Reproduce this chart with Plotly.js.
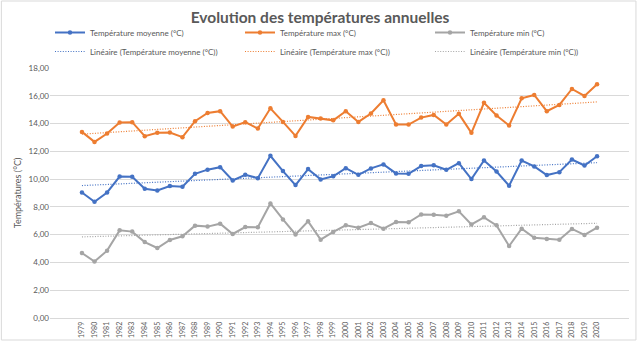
<!DOCTYPE html>
<html><head><meta charset="utf-8">
<script src="https://cdn.plot.ly/plotly-3.0.1.min.js"></script>
<style>html,body{margin:0;padding:0;background:#fff}#chart{width:640px;height:346px}</style>
</head><body><div id="chart"></div>
<script>
const years = ["1979","1980","1981","1982","1983","1984","1985","1986","1987","1988","1989","1990","1991","1992","1993","1994","1995","1996","1997","1998","1999","2000","2001","2002","2003","2004","2005","2006","2007","2008","2009","2010","2011","2012","2013","2014","2015","2016","2017","2018","2019","2020"];
const tMoy = [9.04,8.37,9.04,10.18,10.17,9.30,9.18,9.50,9.45,10.38,10.68,10.86,9.90,10.31,10.07,11.68,10.58,9.57,10.72,9.98,10.20,10.79,10.31,10.77,11.06,10.41,10.38,10.94,11.00,10.67,11.15,10.00,11.34,10.55,9.52,11.34,10.91,10.29,10.50,11.41,10.98,11.65];
const tMax = [13.40,12.68,13.28,14.07,14.10,13.09,13.33,13.35,13.02,14.17,14.76,14.89,13.78,14.10,13.64,15.10,14.12,13.11,14.48,14.36,14.23,14.89,14.12,14.72,15.68,13.93,13.93,14.43,14.62,13.93,14.70,13.33,15.49,14.58,13.86,15.82,16.06,14.89,15.34,16.49,15.99,16.83];
const tMin = [4.68,4.06,4.85,6.31,6.22,5.47,5.04,5.62,5.88,6.65,6.58,6.79,6.05,6.55,6.53,8.25,7.10,6.02,6.96,5.64,6.20,6.67,6.50,6.84,6.43,6.91,6.89,7.46,7.44,7.37,7.68,6.74,7.25,6.67,5.18,6.43,5.78,5.69,5.64,6.41,5.98,6.50];
const names = ["Température moyenne (°C)","Température max (°C)","Température min (°C)"];
const colors = ["#4472C4","#ED7D31","#A5A5A5"];

function trend(v){
  const n=v.length; let sx=0,sy=0,sxy=0,sxx=0;
  for(let i=0;i<n;i++){sx+=i;sy+=v[i];sxy+=i*v[i];sxx+=i*i;}
  const b=(n*sxy-sx*sy)/(n*sxx-sx*sx); const a=(sy-b*sx)/n;
  return v.map((_,i)=>a+b*i);
}
const series=[tMoy,tMax,tMin];
const traces=[];
series.forEach((s,k)=>traces.push({x:years,y:s,type:'scatter',mode:'lines+markers',name:names[k],
  line:{color:colors[k],width:2},marker:{color:colors[k],size:4.5}}));
series.forEach((s,k)=>traces.push({x:years,y:trend(s),type:'scatter',mode:'lines',name:'Linéaire ('+names[k]+')',
  line:{color:colors[k],width:1.2,dash:'1px,1.6px'}}));

const font="Lato, 'Open Sans', sans-serif";
const layout={
  width:640,height:346,
  margin:{l:50,r:11,t:68,b:28},
  paper_bgcolor:'#fff',plot_bgcolor:'#fff',
  separators:',.',
  font:{family:font,color:'#595959',size:8},
  title:{text:'Evolution des températures annuelles',x:0.5,xanchor:'center',y:0.95,yanchor:'middle',
    font:{family:font,size:15.5,color:'#595959',weight:700}},
  showlegend:true,
  legend:{orientation:'h',x:0.0,xanchor:'left',y:1.2,yanchor:'top',entrywidth:145,entrywidthmode:'pixels',
    font:{family:font,size:8,color:'#595959'},tracegroupgap:0,itemwidth:30,bgcolor:'rgba(0,0,0,0)'},
  xaxis:{type:'category',tickangle:-90,tickfont:{size:7,color:'#595959'},showgrid:false,
    showline:true,linecolor:'#d9d9d9',linewidth:1,ticks:'',zeroline:false,fixedrange:true},
  yaxis:{range:[0,18],dtick:2,tick0:0,tickformat:'.2f',showgrid:true,gridcolor:'#d9d9d9',gridwidth:1,
    zeroline:false,showline:false,ticks:'',tickfont:{size:8,color:'#595959'},
    title:{text:'Températures (°C)',font:{size:9,color:'#595959'},standoff:5}},
  shapes:[{type:'rect',xref:'paper',yref:'paper',x0:-0.084,x1:1.012,y0:-0.088,y1:1.268,
    line:{color:'#d9d9d9',width:1},fillcolor:'rgba(0,0,0,0)',layer:'below'}]
};
Plotly.newPlot('chart',traces,layout,{displayModeBar:false,staticPlot:true});
</script></body></html>
